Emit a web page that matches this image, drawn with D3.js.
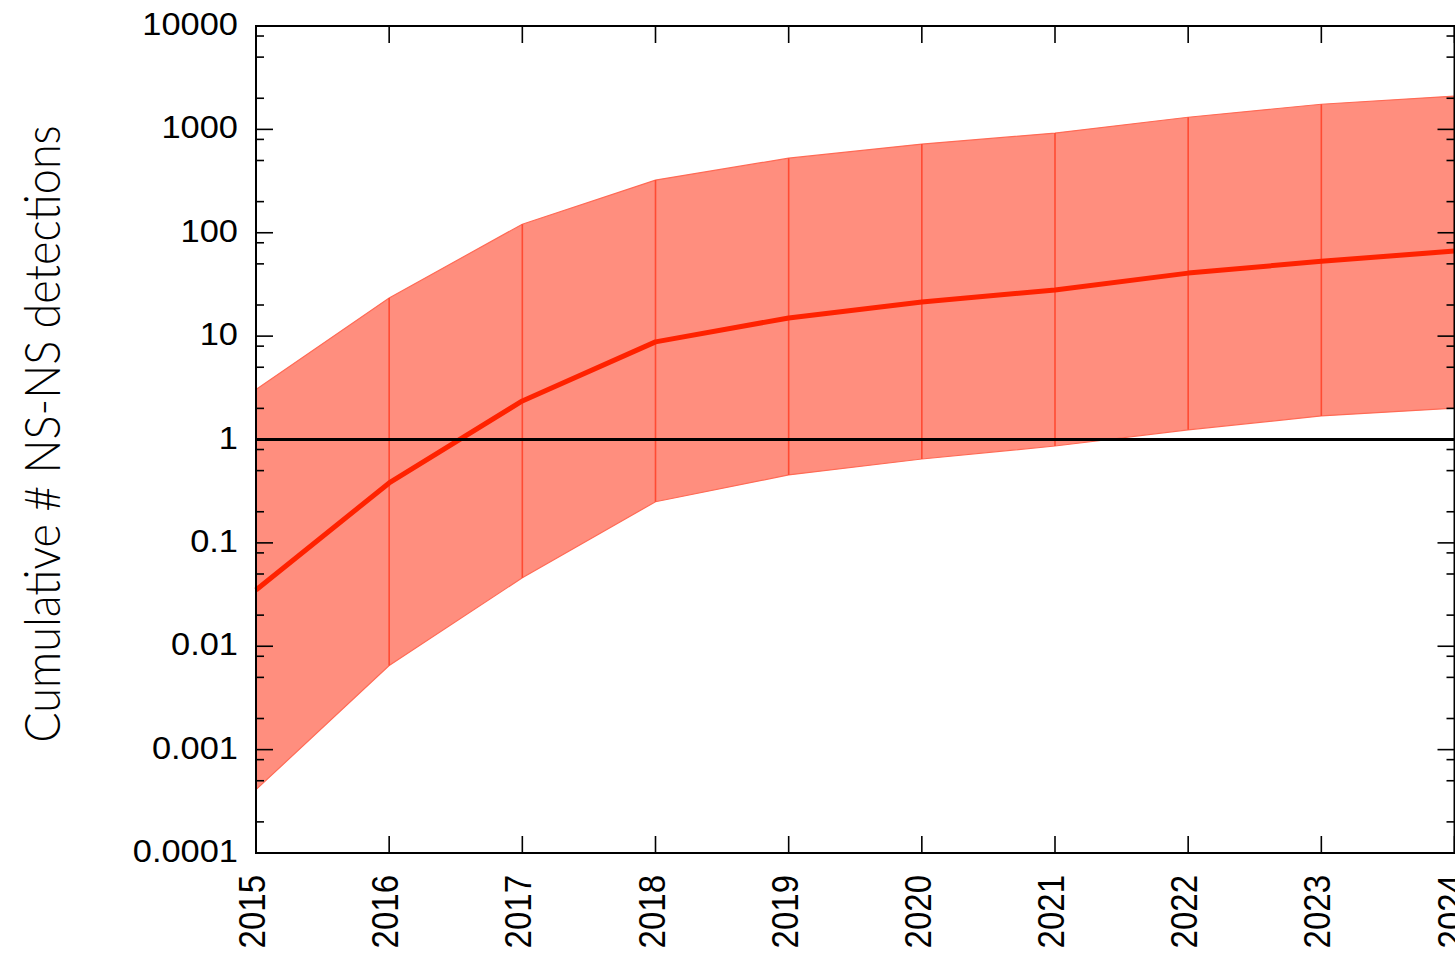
<!DOCTYPE html>
<html>
<head>
<meta charset="utf-8">
<script src="https://cdn.jsdelivr.net/npm/d3@7"></script>
<style>
  html, body { margin: 0; padding: 0; background: #fff; }
  svg { display: block; }
</style>
</head>
<body>
<div id="chart"></div>
<script>
// data
const years = [2015, 2016, 2017, 2018, 2019, 2020, 2021, 2022, 2023, 2024];
const median = [0.035, 0.38, 2.36, 8.8, 15, 21.4, 28, 40.7, 53, 66.5];
const upper = [3.05, 23.4, 121, 323, 527, 721, 920, 1310, 1750, 2100];
const lower = [0.00041, 0.0065, 0.046, 0.25, 0.454, 0.648, 0.865, 1.24, 1.69, 2.01];
const yTicks = [0.0001, 0.001, 0.01, 0.1, 1, 10, 100, 1000, 10000];
const yTickLabels = ["0.0001", "0.001", "0.01", "0.1", "1", "10", "100", "1000", "10000"];
const yLabel = "Cumulative # NS-NS detections";

const W = 1455, H = 955;
const plotL = 256, plotR = 1454.5, plotT = 26, plotB = 853;
const stretch = 1.11; // text in the reference is a bit wide

const svg = d3.select('#chart').append('svg')
    .attr('width', W)
    .attr('height', H);

const x = d3.scaleLinear().domain([2015, 2024]).range([plotL, plotR]);
const y = d3.scaleLog().domain([1e-4, 1e4]).range([plotB, plotT]);

const rows = years.map((yr, i) => ({ yr, med: median[i], lo: lower[i], hi: upper[i] }));

// band
const area = d3.area()
    .x(d => x(d.yr))
    .y0(d => y(d.lo))
    .y1(d => y(d.hi));

svg.append('path')
    .datum(rows)
    .attr('d', area)
    .attr('fill', '#ff8e7e');

// band edges
['hi', 'lo'].forEach(k => {
    svg.append('path')
        .datum(rows)
        .attr('d', d3.line().x(d => x(d.yr)).y(d => y(d[k])))
        .attr('fill', 'none')
        .attr('stroke', '#ff6a55')
        .attr('stroke-width', 1.2);
});

// vertical error lines at each year
svg.append('g')
    .selectAll('line')
    .data(rows)
    .enter().append('line')
    .attr('x1', d => x(d.yr))
    .attr('x2', d => x(d.yr))
    .attr('y1', d => y(d.lo))
    .attr('y2', d => y(d.hi))
    .attr('stroke', '#ff4b33')
    .attr('stroke-width', 1.6);

// median line
svg.append('path')
    .datum(rows)
    .attr('d', d3.line().x(d => x(d.yr)).y(d => y(d.med)))
    .attr('fill', 'none')
    .attr('stroke', '#ff2200')
    .attr('stroke-width', 5)
    .attr('stroke-linejoin', 'round');

// y = 1 reference line
svg.append('line')
    .attr('x1', plotL).attr('x2', plotR)
    .attr('y1', y(1)).attr('y2', y(1))
    .attr('stroke', '#000')
    .attr('stroke-width', 2.8);

// frame
const axisG = svg.append('g').attr('stroke', '#000').attr('stroke-width', 2);
axisG.append('rect')
    .attr('x', plotL).attr('y', plotT)
    .attr('width', plotR - plotL).attr('height', plotB - plotT)
    .attr('fill', 'none');

// year ticks, bottom (pointing up) and top (pointing down)
years.forEach(yr => {
    axisG.append('line')
        .attr('x1', x(yr)).attr('x2', x(yr))
        .attr('y1', plotB).attr('y2', plotB - 17)
        .attr('stroke-width', 1.6);
    axisG.append('line')
        .attr('x1', x(yr)).attr('x2', x(yr))
        .attr('y1', plotT).attr('y2', plotT + 17)
        .attr('stroke-width', 1.6);
});

// y ticks: majors at decades, minors at 2, 5, 8
const minors = [];
yTicks.slice(0, -1).forEach(v => [2, 5, 8].forEach(m => minors.push(v * m)));

yTicks.forEach(v => {
    axisG.append('line').attr('x1', plotL).attr('x2', plotL + 17)
        .attr('y1', y(v)).attr('y2', y(v)).attr('stroke-width', 1.6);
    axisG.append('line').attr('x1', plotR).attr('x2', plotR - 17)
        .attr('y1', y(v)).attr('y2', y(v)).attr('stroke-width', 1.6);
});
minors.forEach(v => {
    axisG.append('line').attr('x1', plotL).attr('x2', plotL + 8)
        .attr('y1', y(v)).attr('y2', y(v)).attr('stroke-width', 1.6);
    axisG.append('line').attr('x1', plotR).attr('x2', plotR - 8)
        .attr('y1', y(v)).attr('y2', y(v)).attr('stroke-width', 1.6);
});

// y tick labels
svg.append('g')
    .selectAll('text')
    .data(yTicks)
    .enter().append('text')
    .attr('transform', d => `translate(238,${y(d) + 9}) scale(${stretch},1)`)
    .attr('text-anchor', 'end')
    .attr('font-family', '"Liberation Sans", Arial, sans-serif')
    .attr('font-size', 31)
    .attr('fill', '#000')
    .text((d, i) => yTickLabels[i]);

// year labels, rotated
svg.append('g')
    .selectAll('text')
    .data(years)
    .enter().append('text')
    .attr('transform', d => `translate(${x(d) + 9},875) scale(${stretch},1) rotate(-90)`)
    .attr('text-anchor', 'end')
    .attr('font-family', '"Liberation Sans", Arial, sans-serif')
    .attr('font-size', 33)
    .attr('fill', '#000')
    .text(d => d);

// y axis title
svg.append('text')
    .attr('transform', `translate(60,434) scale(${stretch},1) rotate(-90)`)
    .attr('text-anchor', 'middle')
    .attr('font-family', 'Lato, "Open Sans", sans-serif')
    .attr('font-weight', 300)
    .attr('font-size', 45)
    .attr('fill', '#000')
    .text(yLabel);
</script>
</body>
</html>
